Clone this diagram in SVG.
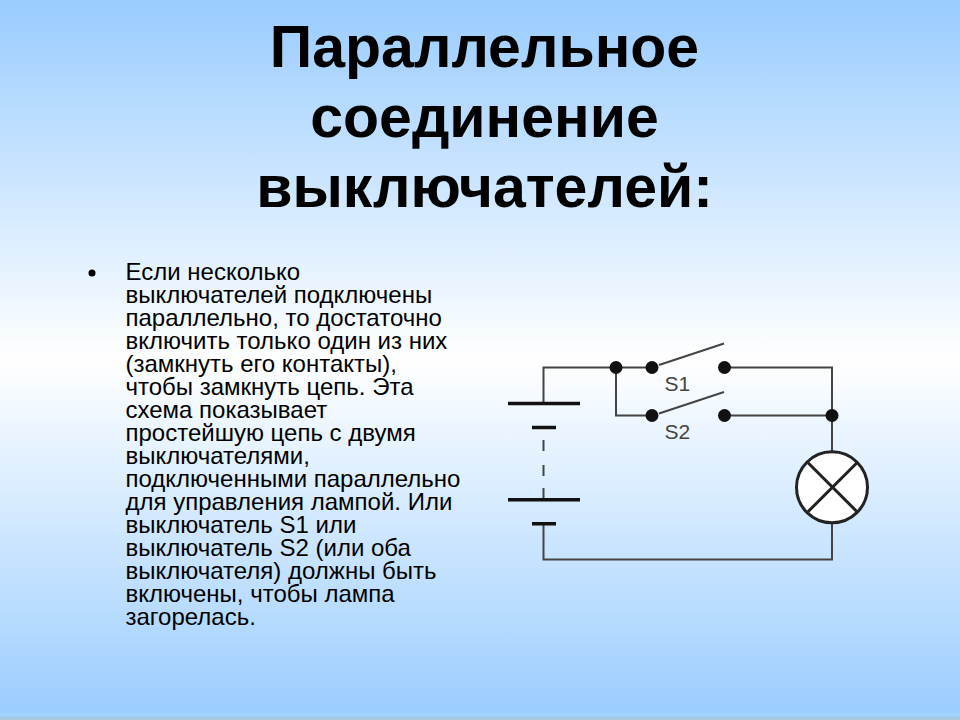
<svg xmlns="http://www.w3.org/2000/svg" width="960" height="720" viewBox="0 0 960 720">
<style>
.t{font-family:"Liberation Sans",Arial,sans-serif;font-weight:bold;font-size:59px;fill:#000;text-anchor:middle}
.b{font-family:"Liberation Sans",Arial,sans-serif;font-size:24px;fill:#000}
.w{fill:none;stroke:#444;stroke-width:2}
.p{fill:none;stroke:#111;stroke-width:3.5}
.d{fill:#111}
.l{font-family:"Liberation Sans",Arial,sans-serif;font-size:21px;fill:#444}
</style>
<defs><linearGradient id="bg" x1="0" y1="0" x2="0" y2="1">
<stop offset="0" stop-color="#99ccff"/><stop offset="0.5" stop-color="#ffffff"/><stop offset="1" stop-color="#99ccff"/></linearGradient></defs>
<rect width="960" height="720" fill="url(#bg)"/>
<rect y="713" width="960" height="3" fill="#a3d5ff"/>
<rect y="717" width="960" height="3" fill="#a8c8e0"/>
<g id="title">
<text class="t" x="484.5" y="67">Параллельное</text>
<text class="t" x="484.5" y="137">соединение</text>
<text class="t" x="484.5" y="207">выключателей:</text>
</g>
<g id="body">
<circle cx="92" cy="273" r="3.5" fill="#000"/>
<text class="b" x="125.5" y="280">Если несколько</text>
<text class="b" x="125.5" y="303">выключателей подключены</text>
<text class="b" x="125.5" y="326">параллельно, то достаточно</text>
<text class="b" x="125.5" y="349">включить только один из них</text>
<text class="b" x="125.5" y="372">(замкнуть его контакты),</text>
<text class="b" x="125.5" y="395">чтобы замкнуть цепь. Эта</text>
<text class="b" x="125.5" y="418">схема показывает</text>
<text class="b" x="125.5" y="441">простейшую цепь с двумя</text>
<text class="b" x="125.5" y="464">выключателями,</text>
<text class="b" x="125.5" y="487">подключенными параллельно</text>
<text class="b" x="125.5" y="510">для управления лампой. Или</text>
<text class="b" x="125.5" y="533">выключатель S1 или</text>
<text class="b" x="125.5" y="556">выключатель S2 (или оба</text>
<text class="b" x="125.5" y="579">выключателя) должны быть</text>
<text class="b" x="125.5" y="602">включены, чтобы лампа</text>
<text class="b" x="125.5" y="625">загорелась.</text>
</g>
<g id="connectors">
<path class="w" d="M543.5 403V367.5H652M724.5 367.5H832V451M616 367.5V415.5H652M724.5 415.5H832M659 365L724 343.5M659 413.5L724 392"/>
<path class="w" d="M832 523V559.5H543.5V524M543.5 440V451M543.5 465V476M543.5 488V499"/>
</g>
<g id="battery">
<path class="p" d="M508 403.5H580M532 427.5H556M508 499.7H580M532 523.7H556"/>
</g>
<g id="node-j1"><circle class="d" cx="616" cy="367.5" r="6.5"/></g>
<g id="node-s1">
<circle class="d" cx="652" cy="367.5" r="6.5"/><circle class="d" cx="724.5" cy="367.5" r="6.5"/>
<text class="l" x="664.5" y="391">S1</text>
</g>
<g id="node-s2">
<circle class="d" cx="652" cy="415.5" r="6.5"/><circle class="d" cx="724.5" cy="415.5" r="6.5"/>
<text class="l" x="664.5" y="439">S2</text>
</g>
<g id="node-j2"><circle class="d" cx="832" cy="415.5" r="6.5"/></g>
<g id="lamp">
<circle cx="832" cy="487.3" r="35.5" fill="#fff" stroke="#222" stroke-width="3"/>
<path d="M808 462.7L857 511.7M857 462.7L808 511.7" fill="none" stroke="#222" stroke-width="3"/>
</g>
</svg>
